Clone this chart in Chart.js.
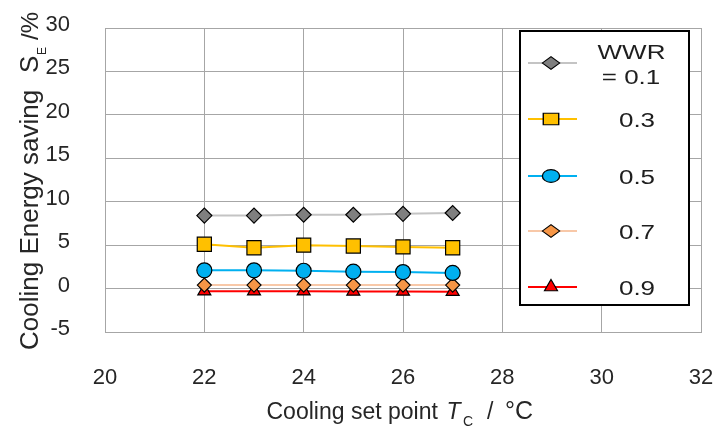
<!DOCTYPE html>
<html>
<head>
<meta charset="utf-8">
<script src="https://cdn.jsdelivr.net/npm/chart.js@4.4.1/dist/chart.umd.min.js"></script>
<style>
  html, body { margin: 0; padding: 0; background: #fff; }
  #wrap { width: 716px; height: 426px; }
</style>
</head>
<body>
<div id="wrap"><canvas id="c" width="716" height="426"></canvas></div>
<script>
// Cooling set point (°C) for each simulation run
const setPoints = [22, 23, 24, 25, 26, 27];

// Cooling energy saving S_E (%) per window-to-wall ratio
const wwrLabels = ['0.1', '0.3', '0.5', '0.7', '0.9'];
const savingWWR01 = [8.4, 8.4, 8.5, 8.5, 8.6, 8.7];
const savingWWR03 = [5.1, 4.7, 5.0, 4.9, 4.8, 4.7];
const savingWWR05 = [2.1, 2.1, 2.05, 1.95, 1.9, 1.8];
const savingWWR07 = [0.4, 0.4, 0.4, 0.4, 0.4, 0.4];
const savingWWR09 = [-0.3, -0.3, -0.3, -0.33, -0.33, -0.36];

// Axis tick values
const xTickValues = [20, 22, 24, 26, 28, 30, 32];
const yTickValues = [-5, 0, 5, 10, 15, 20, 25, 30];

// Drawing styles for each series (same order as wwrLabels)
const seriesStyles = [
  { line: '#c4c4c4', fill: '#7f7f7f', shape: 'rectRot',  r: 7.5 },
  { line: '#ffc000', fill: '#ffc000', shape: 'rect',     r: 10 },
  { line: '#00b0f0', fill: '#00b0f0', shape: 'circle',   r: 7.5 },
  { line: '#f8c8a8', fill: '#f79646', shape: 'rectRot',  r: 7 },
  { line: '#ff0000', fill: '#ff0000', shape: 'triangle', r: 7.5 }
];

const seriesValues = [savingWWR01, savingWWR03, savingWWR05, savingWWR07, savingWWR09];

const FONT = "'Liberation Sans', Arial, sans-serif";
const TEXT = '#262626';
const GRID = '#a6a6a6';

const datasets = seriesValues.map((vals, i) => {
  const s = seriesStyles[i];
  return {
    label: wwrLabels[i],
    data: setPoints.map((x, k) => ({ x: x, y: vals[k] })),
    borderColor: s.line,
    borderWidth: 2,
    backgroundColor: s.fill,
    pointBackgroundColor: s.fill,
    pointBorderColor: '#000',
    pointBorderWidth: 1.2,
    pointStyle: s.shape,
    pointRadius: s.r,
    pointHoverRadius: s.r,
    tension: 0,
    fill: false
  };
});

// Axis titles with italic symbols and subscripts
const axisTitles = {
  id: 'axisTitles',
  afterDraw(chart) {
    const ctx = chart.ctx;
    ctx.save();
    ctx.fillStyle = TEXT;
    ctx.textAlign = 'left';
    ctx.textBaseline = 'alphabetic';

    // x-axis title
    const by = 418.5;
    ctx.font = '23px ' + FONT;
    ctx.fillText('Cooling set point', 266.5, by);
    ctx.font = 'italic 23px ' + FONT;
    ctx.fillText('T', 446.5, by);
    ctx.font = '14px ' + FONT;
    ctx.fillText('C', 463, by + 7);
    ctx.font = '23px ' + FONT;
    ctx.fillText('/', 487, by);
    ctx.font = '25px ' + FONT;
    ctx.fillText('\u00B0C', 505, by);

    // y-axis title (rotated, reading upward)
    ctx.translate(38, 350);
    ctx.rotate(-Math.PI / 2);
    ctx.font = '26px ' + FONT;
    ctx.fillText('Cooling Energy saving', 0, 0);
    ctx.fillText('S', 277, 0);
    ctx.font = '12px ' + FONT;
    ctx.fillText('E', 295, 8);
    ctx.font = '24px ' + FONT;
    ctx.fillText('/%', 310, 0);
    ctx.restore();
  }
};

// Boxed legend with a line-and-marker sample per series
const boxedLegend = {
  id: 'boxedLegend',
  afterDraw(chart) {
    const ctx = chart.ctx;
    const L = 520, T = 31, R = 689, B = 305;
    ctx.save();
    ctx.fillStyle = '#fff';
    ctx.fillRect(L, T, R - L, B - T);
    ctx.strokeStyle = '#000';
    ctx.lineWidth = 2;
    ctx.strokeRect(L, T, R - L, B - T);

    const rowY = [63, 119, 176, 231, 287];
    chart.data.datasets.forEach((ds, i) => {
      const s = seriesStyles[i];
      const y = rowY[i];
      ctx.strokeStyle = s.line;
      ctx.lineWidth = 2;
      ctx.beginPath();
      ctx.moveTo(528, y);
      ctx.lineTo(577, y);
      ctx.stroke();

      ctx.save();
      ctx.translate(551, y);
      if (s.shape !== 'triangle') ctx.scale(1.15, 0.85);
      ctx.fillStyle = s.fill;
      ctx.strokeStyle = '#000';
      ctx.lineWidth = 1.2;
      Chart.helpers.drawPoint(ctx, {
        pointStyle: s.shape,
        radius: s.shape === 'rect' ? 9.5 : 7.5,
        borderWidth: 1.2,
        rotation: 0
      }, 0, 0);
      ctx.restore();
    });

    // labels, drawn slightly widened
    ctx.fillStyle = '#1e1e1e';
    ctx.textAlign = 'center';
    ctx.textBaseline = 'middle';
    ctx.font = '20px ' + FONT;
    const label = (txt, cx, cy) => {
      ctx.save();
      ctx.translate(cx, cy);
      ctx.scale(1.3, 1);
      ctx.fillText(txt, 0, 0);
      ctx.restore();
    };
    label('WWR', 631.5, 53);
    label('= ' + wwrLabels[0], 631, 78);
    for (let i = 1; i < wwrLabels.length; i++) {
      label(wwrLabels[i], 637, rowY[i] + 2);
    }
    ctx.restore();
  }
};

const whiteBg = {
  id: 'whiteBg',
  beforeDraw(chart) {
    const ctx = chart.ctx;
    ctx.save();
    ctx.fillStyle = '#fff';
    ctx.fillRect(0, 0, chart.width, chart.height);
    ctx.restore();
  }
};

new Chart(document.getElementById('c'), {
  type: 'line',
  data: { datasets: datasets },
  options: {
    responsive: false,
    devicePixelRatio: 1,
    animation: false,
    layout: { autoPadding: false, padding: { left: 0, top: 28, right: 15, bottom: 0 } },
    plugins: {
      legend: { display: false },
      tooltip: { enabled: false },
      title: { display: false }
    },
    scales: {
      x: {
        type: 'linear',
        min: xTickValues[0],
        max: xTickValues[xTickValues.length - 1],
        afterBuildTicks: (scale) => { scale.ticks = xTickValues.map(v => ({ value: v })); },
        afterFit: (scale) => { scale.height = 94; scale.paddingRight = 0; scale.paddingLeft = 0; },
        grid: { color: GRID, lineWidth: 1, drawTicks: false },
        border: { color: GRID, width: 1 },
        ticks: {
          padding: 33,
          color: TEXT,
          font: { family: FONT, size: 22 },
          maxRotation: 0,
          autoSkip: false
        }
      },
      y: {
        type: 'linear',
        min: yTickValues[0],
        max: yTickValues[yTickValues.length - 1],
        afterBuildTicks: (scale) => { scale.ticks = yTickValues.map(v => ({ value: v })); },
        afterFit: (scale) => { scale.width = 105; scale.paddingTop = 0; scale.paddingBottom = 0; },
        grid: { color: GRID, lineWidth: 1, drawTicks: false },
        border: { color: GRID, width: 1 },
        ticks: {
          padding: 35,
          labelOffset: -3,
          color: TEXT,
          font: { family: FONT, size: 22 },
          autoSkip: false
        }
      }
    }
  },
  plugins: [whiteBg, axisTitles, boxedLegend]
});
</script>
</body>
</html>
